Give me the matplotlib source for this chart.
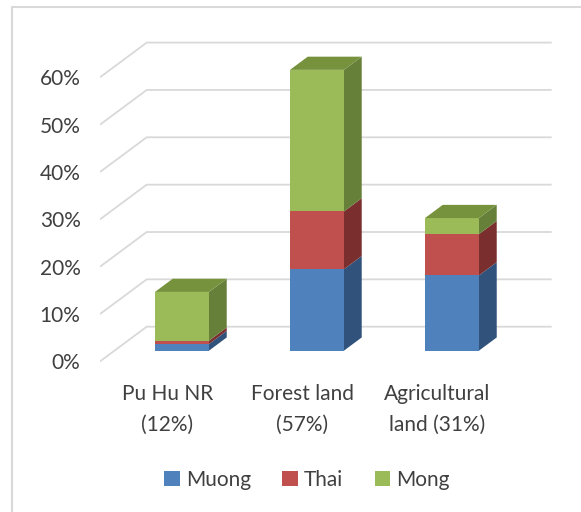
import matplotlib.pyplot as plt
from matplotlib.patches import Polygon, Rectangle
from matplotlib.lines import Line2D

# data (percent of each land class, stacked by ethnic group)
categories = ["Pu Hu NR\n(12%)", "Forest land\n(57%)", "Agricultural\nland (31%)"]
groups = ["Muong", "Thai", "Mong"]
muong = [1.4, 17.2, 15.9]
thai = [0.7, 12.2, 8.7]
mong = [10.3, 29.9, 3.4]
yticks = [0, 10, 20, 30, 40, 50, 60]

front = ["#4F81BD", "#C0504D", "#9BBB59"]
side = ["#31527B", "#7A2E2D", "#66803A"]
top = ["#3F6798", "#9A403E", "#76923C"]

plt.rcParams['font.family'] = ['Lato', 'DejaVu Sans']
TXT = "#404040"
GRID = "#d9d9d9"
FS = 15

W, H = 581, 512
fig = plt.figure(figsize=(W / 100, H / 100), dpi=100)

# pixel layout of the plot area
px_unit = 135.0      # px per category
px_pct = 4.735       # px per percent
x0_px, y0_px = 100, 361.4   # front-plane origin (category -0.5, 0%)
ax_l, ax_r, ax_t, ax_b = 100, 560, 30, 372
ax = fig.add_axes([ax_l / W, 1 - ax_b / H, (ax_r - ax_l) / W, (ax_b - ax_t) / H])
ax.set_xlim(-0.5, -0.5 + (ax_r - ax_l) / px_unit)
ax.set_ylim((y0_px - ax_b) / px_pct, (y0_px - ax_t) / px_pct)

# oblique depth
DX = 46.7 / px_unit
DY = 34.7 / px_pct
f0, f1 = 0.31, 0.69
bw = 0.4

# floor / wall gridlines
for v in yticks:
    ax.add_line(Line2D([-0.5, -0.5 + DX, 2.5 + DX], [v, v + DY, v + DY],
                       color=GRID, lw=1.3, zorder=1, solid_capstyle='butt'))

series = [muong, thai, mong]
for i in range(len(categories)):
    base = 0.0
    for k, vals in enumerate(series):
        b, t = base, base + vals[i]
        xl, xr = i - bw / 2, i + bw / 2
        ax.add_patch(Polygon([(xr + f0 * DX, b + f0 * DY), (xr + f1 * DX, b + f1 * DY),
                              (xr + f1 * DX, t + f1 * DY), (xr + f0 * DX, t + f0 * DY)],
                             closed=True, fc=side[k], ec='none', zorder=3))
        ax.add_patch(Rectangle((xl + f0 * DX, b + f0 * DY), bw, t - b,
                               fc=front[k], ec='none', zorder=4))
        base = t
    # top face of the stack
    ax.add_patch(Polygon([(xl + f0 * DX, base + f0 * DY), (xr + f0 * DX, base + f0 * DY),
                          (xr + f1 * DX, base + f1 * DY), (xl + f1 * DX, base + f1 * DY)],
                         closed=True, fc=top[2], ec='none', zorder=4))

for s in ax.spines.values():
    s.set_visible(False)
ax.set_yticks(yticks)
ax.set_yticklabels([f"{v}%" for v in yticks])
ax.set_xticks(range(len(categories)))
ax.set_xticklabels(categories, linespacing=1.67)
ax.tick_params(axis='y', length=0, pad=14, labelsize=FS, labelcolor=TXT)
ax.tick_params(axis='x', length=0, pad=9, labelsize=FS, labelcolor=TXT)

handles = [Rectangle((0, 0), 1, 1, fc=c, ec='none') for c in front]
fig.legend(handles, groups, loc='center', bbox_to_anchor=(307 / W, 1 - 480 / H),
           ncol=3, frameon=False, fontsize=FS, labelcolor=TXT,
           handlelength=0.75, handleheight=0.75, handletextpad=0.3, columnspacing=1.5)

# chart border
fig.add_artist(Rectangle((12 / W, -0.1), 1.2, 1 - 7 / H + 0.1, transform=fig.transFigure,
                         fill=False, ec=GRID, lw=1.5))

fig.savefig("out.png", dpi=100)
